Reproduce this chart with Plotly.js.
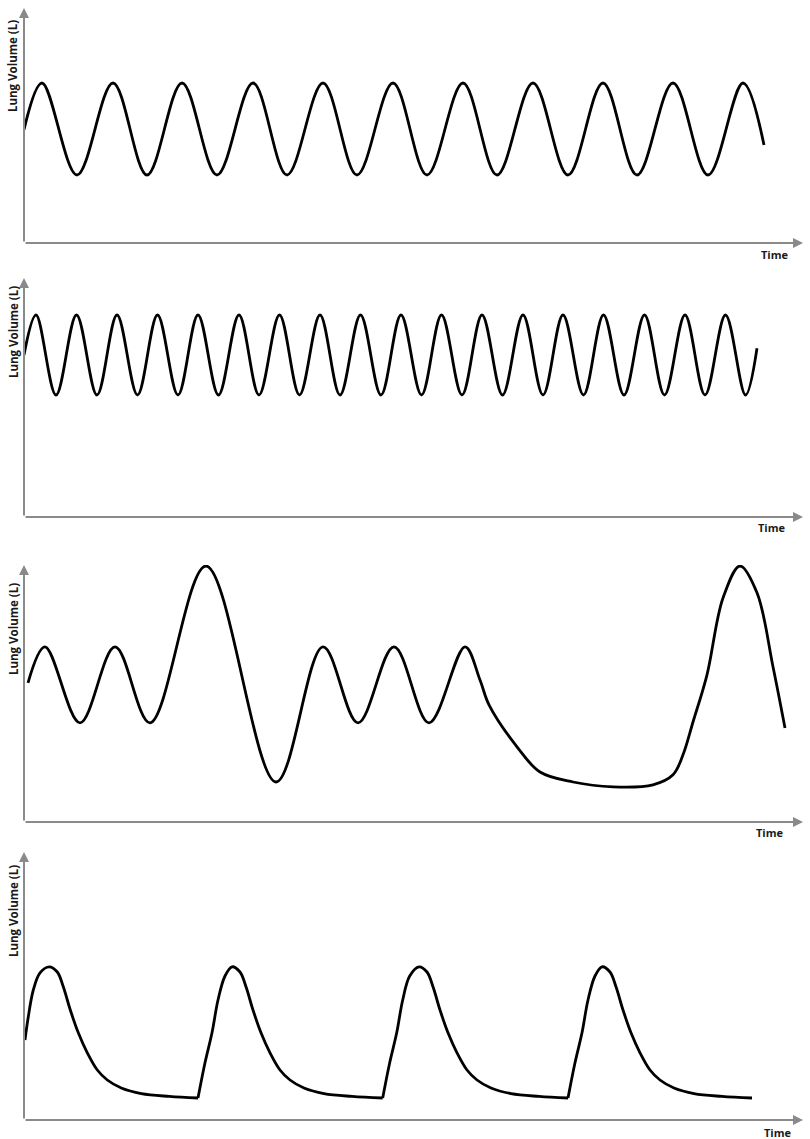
<!DOCTYPE html>
<html>
<head>
<meta charset="utf-8">
<script src="https://cdn.plot.ly/plotly-3.0.1.min.js"></script>
<style>html,body{margin:0;padding:0;background:#fff;}#chart{width:810px;height:1139px;}</style>
</head>
<body>
<div id="chart"></div>
<script>
// ---- Data (time in arbitrary units, lung volume in L) ----
var yTitle = "Lung Volume (L)";
var xTitle = "Time";

// Panel 1: normal quiet breathing (start, alternating peaks/troughs, end)
var p1Time = [0, 1.8, 5.3, 8.9, 12.3, 15.8, 19.3, 22.9, 26.3, 29.9, 33.3, 36.9, 40.3, 43.9, 47.3, 50.9, 54.4, 57.9, 61.3, 64.9, 68.4, 71.9, 74.0];
var p1Vol = [2.83, 4.0, 1.7, 4.0, 1.7, 4.0, 1.7, 4.0, 1.7, 4.0, 1.7, 4.0, 1.7, 4.0, 1.7, 4.0, 1.7, 4.0, 1.7, 4.0, 1.7, 4.0, 2.45];

// Panel 2: rapid breathing
var p2Time = [0, 1.2, 3.2, 5.25, 7.3, 9.3, 11.35, 13.35, 15.4, 17.4, 19.45, 21.5, 23.5, 25.55, 27.55, 29.6, 31.6, 33.65, 35.7, 37.7, 39.75, 41.75, 43.8, 45.8, 47.85, 49.9, 51.9, 53.9, 55.95, 57.95, 60.0, 62.05, 64.05, 66.1, 68.1, 70.15, 72.15, 73.3];
var p2Vol = [4.05, 5.05, 3.05, 5.05, 3.05, 5.05, 3.05, 5.05, 3.05, 5.05, 3.05, 5.05, 3.05, 5.05, 3.05, 5.05, 3.05, 5.05, 3.05, 5.05, 3.05, 5.05, 3.05, 5.05, 3.05, 5.05, 3.05, 5.05, 3.05, 5.05, 3.05, 5.05, 3.05, 5.05, 3.05, 5.05, 3.05, 4.22];

// Panel 3: irregular breathing with sighs and a pause
var p3Time = [0.4, 2.1, 5.6, 9.1, 12.6, 18.2, 25.2, 29.9, 33.4, 37.0, 40.5, 44.1, 45.6, 46.5, 49.3, 51.6, 54.9, 58.9, 62.9, 64.9, 65.9, 66.9, 68.3, 69.9, 71.6, 73.3, 74.9, 76.1];
var p3Vol = [3.48, 4.38, 2.48, 4.38, 2.48, 6.4, 1.0, 4.38, 2.48, 4.38, 2.48, 4.38, 3.55, 2.93, 1.88, 1.25, 1.0, 0.88, 0.93, 1.18, 1.68, 2.5, 3.68, 5.6, 6.4, 5.73, 3.88, 2.35];

// Panel 4: gasping breaths (one array pair per breath)
var p4Breath1Time = [0.1, 0.43, 0.93, 1.6, 2.53, 3.33, 3.93, 4.63, 5.43, 6.33, 7.33, 8.33, 9.73, 11.73, 14.53, 17.4];
var p4Breath1Vol = [2.0, 2.58, 3.25, 3.68, 3.83, 3.7, 3.33, 2.75, 2.18, 1.68, 1.25, 1.0, 0.8, 0.66, 0.59, 0.55];
var p4Breath2Time = [17.4, 18.1, 18.8, 19.4, 20.1, 20.8, 21.6, 22.2, 22.9, 23.7, 24.6, 25.6, 26.6, 28.0, 30.0, 32.8, 35.87];
var p4Breath2Vol = [0.55, 1.43, 2.18, 3.0, 3.6, 3.83, 3.7, 3.33, 2.75, 2.18, 1.68, 1.25, 1.0, 0.8, 0.66, 0.59, 0.55];
var p4Breath3Time = [35.87, 36.57, 37.27, 37.87, 38.57, 39.5, 40.3, 40.9, 41.6, 42.4, 43.3, 44.3, 45.3, 46.7, 48.7, 51.5, 54.4];
var p4Breath3Vol = [0.55, 1.43, 2.18, 3.0, 3.6, 3.83, 3.7, 3.33, 2.75, 2.18, 1.68, 1.25, 1.0, 0.8, 0.66, 0.59, 0.55];
var p4Breath4Time = [54.4, 55.1, 55.8, 56.4, 57.1, 57.8, 58.6, 59.2, 59.9, 60.7, 61.6, 62.6, 63.6, 65.0, 67.0, 69.8, 72.8];
var p4Breath4Vol = [0.55, 1.43, 2.18, 3.0, 3.6, 3.83, 3.7, 3.33, 2.75, 2.18, 1.68, 1.25, 1.0, 0.8, 0.66, 0.59, 0.55];

// ---- Layout geometry ----
var W = 810, H = 1139;
var axisLeftPx = 24, axisRightPx = 803;
var panels = [
  {axisY: 243, topY: 8, titleY: 66, timeX: 775, timeY: 255},
  {axisY: 517, topY: 278, titleY: 332, timeX: 772, timeY: 527},
  {axisY: 822, topY: 565, titleY: 629, timeX: 770, timeY: 832},
  {axisY: 1120, topY: 852, titleY: 911, timeX: 778, timeY: 1132}
];
var xMax = 77.9;
var pxPerL = 40;

var seriesByPanel = [
  [[p1Time, p1Vol]],
  [[p2Time, p2Vol]],
  [[p3Time, p3Vol]],
  [[p4Breath1Time, p4Breath1Vol], [p4Breath2Time, p4Breath2Vol], [p4Breath3Time, p4Breath3Vol], [p4Breath4Time, p4Breath4Vol]]
];

var data = [];
var layout = {
  width: W, height: H, autosize: false,
  margin: {l: 0, r: 0, t: 0, b: 0},
  paper_bgcolor: '#fff', plot_bgcolor: 'rgba(0,0,0,0)',
  showlegend: false,
  annotations: []
};
var axisColor = '#8a8a8a';
var yFont = {family: 'Open Sans, sans-serif', size: 11.5, color: '#1a1a1a', weight: 'bold'};
var xFont = {family: 'Open Sans, sans-serif', size: 11, color: '#1a1a1a', weight: 'bold'};

panels.forEach(function (p, i) {
  var n = i + 1;
  var xa = 'xaxis' + (n === 1 ? '' : n), ya = 'yaxis' + (n === 1 ? '' : n);
  var xr = 'x' + (n === 1 ? '' : n), yr = 'y' + (n === 1 ? '' : n);
  var yMax = (p.axisY - p.topY) / pxPerL;
  var hidden = {showgrid: false, zeroline: false, showline: false, showticklabels: false, ticks: '', fixedrange: true};
  layout[xa] = Object.assign({domain: [axisLeftPx / W, axisRightPx / W], range: [0, xMax], anchor: yr}, hidden);
  layout[ya] = Object.assign({domain: [(H - p.axisY) / H, (H - p.topY) / H], range: [0, yMax], anchor: xr}, hidden);

  seriesByPanel[i].forEach(function (s) {
    data.push({
      type: 'scatter', mode: 'lines', x: s[0], y: s[1], xaxis: xr, yaxis: yr,
      line: {color: '#000', width: 2.8, shape: 'spline', smoothing: 1},
      cliponaxis: false, hoverinfo: 'skip'
    });
  });

  // y axis with arrow
  layout.annotations.push({
    x: 0, y: yMax, ax: 0, ay: 0, xref: xr, yref: yr, axref: xr, ayref: yr,
    text: '', showarrow: true, arrowhead: 2, arrowsize: 1, arrowwidth: 2, arrowcolor: axisColor, standoff: 0
  });
  // x axis with arrow
  layout.annotations.push({
    x: xMax, y: 0, ax: 0, ay: 0, xref: xr, yref: yr, axref: xr, ayref: yr,
    text: '', showarrow: true, arrowhead: 2, arrowsize: 1, arrowwidth: 2, arrowcolor: axisColor, standoff: 0
  });
  // y title
  layout.annotations.push({
    x: 13 / W, y: (H - p.titleY) / H, xref: 'paper', yref: 'paper',
    text: yTitle, showarrow: false, textangle: -90, xanchor: 'center', yanchor: 'middle', font: yFont
  });
  // x title
  layout.annotations.push({
    x: p.timeX / W, y: (H - p.timeY) / H, xref: 'paper', yref: 'paper',
    text: xTitle, showarrow: false, xanchor: 'center', yanchor: 'middle', font: xFont
  });
});

Plotly.newPlot('chart', data, layout, {staticPlot: true, displayModeBar: false});
</script>
</body>
</html>
